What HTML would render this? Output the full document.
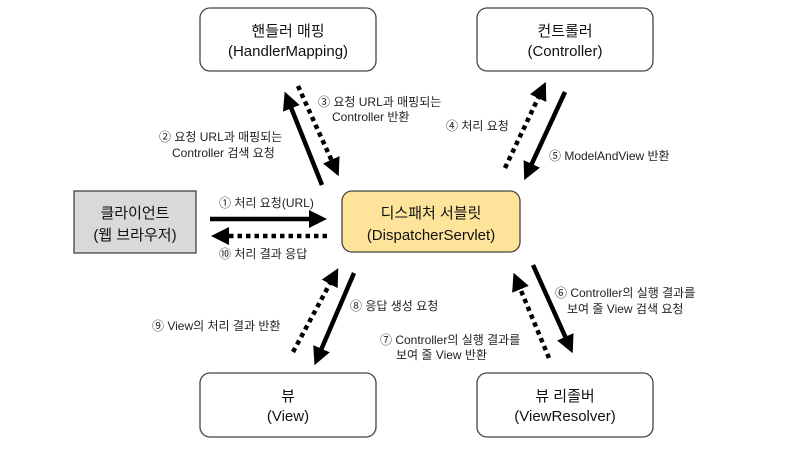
<!DOCTYPE html>
<html><head><meta charset="utf-8"><style>
body{margin:0;background:#fff;}
svg{display:block;font-family:"Liberation Sans","Noto Sans CJK KR",sans-serif;}
.b{font-size:15px;fill:#111;text-anchor:middle}
.l{font-size:12px;fill:#222}
</style></head><body>
<svg width="800" height="450" viewBox="0 0 800 450" xmlns="http://www.w3.org/2000/svg">
<defs>
<marker id="h" markerWidth="4" markerHeight="4" refX="2" refY="2" orient="auto" markerUnits="strokeWidth"><path d="M0,0 L4,2 L0,4 z" fill="#000"/></marker>
</defs>
<g stroke="#444" stroke-width="1.3">
<rect x="200" y="8" width="176" height="63" rx="10" fill="#fff"/>
<rect x="477" y="8" width="176" height="63" rx="10" fill="#fff"/>
<rect x="74" y="191" width="122" height="62" fill="#d9d9d9"/>
<rect x="342" y="191" width="178" height="61" rx="10" fill="#fde49a"/>
<rect x="200" y="373" width="176" height="64" rx="10" fill="#fff"/>
<rect x="477" y="373" width="176" height="64" rx="10" fill="#fff"/>
</g>
<text class="b" x="288" y="36">핸들러 매핑</text><text class="b" x="288" y="56">(HandlerMapping)</text>
<text class="b" x="565" y="36">컨트롤러</text><text class="b" x="565" y="56">(Controller)</text>
<text class="b" x="135" y="218">클라이언트</text><text class="b" x="135" y="240">(웹 브라우저)</text>
<text class="b" x="431" y="218">디스패처 서블릿</text><text class="b" x="431" y="240">(DispatcherServlet)</text>
<text class="b" x="288" y="401">뷰</text><text class="b" x="288" y="421">(View)</text>
<text class="b" x="565" y="401">뷰 리졸버</text><text class="b" x="565" y="421">(ViewResolver)</text>
<g stroke="#000" stroke-width="4.5" fill="none" marker-end="url(#h)">
<line x1="322" y1="185" x2="288" y2="100"/>
<line x1="298" y1="86" x2="335" y2="168" stroke-dasharray="4.5,4"/>
<line x1="505" y1="168" x2="542" y2="90" stroke-dasharray="4.5,4"/>
<line x1="565" y1="92" x2="528" y2="172"/>
<line x1="210" y1="219" x2="318" y2="219"/>
<line x1="327" y1="236" x2="220" y2="236" stroke-dasharray="4.5,4"/>
<line x1="354" y1="273" x2="318" y2="357"/>
<line x1="293" y1="352" x2="334" y2="276" stroke-dasharray="4.5,4"/>
<line x1="533" y1="265" x2="569" y2="345"/>
<line x1="549" y1="358" x2="517" y2="281" stroke-dasharray="4.5,4"/>
</g>
<text class="l" x="159" y="141">② 요청 URL과 매핑되는</text><text class="l" x="172" y="157">Controller 검색 요청</text>
<text class="l" x="318" y="106">③ 요청 URL과 매핑되는</text><text class="l" x="332" y="121">Controller 반환</text>
<text class="l" x="446" y="130">④ 처리 요청</text>
<text class="l" x="549" y="160">⑤ ModelAndView 반환</text>
<text class="l" x="219" y="207">① 처리 요청(URL)</text>
<text class="l" x="219" y="258">⑩ 처리 결과 응답</text>
<text class="l" x="350" y="310">⑧ 응답 생성 요청</text>
<text class="l" x="152" y="330">⑨ View의 처리 결과 반환</text>
<text class="l" x="380" y="344">⑦ Controller의 실행 결과를</text><text class="l" x="396" y="359">보여 줄 View 반환</text>
<text class="l" x="555" y="297">⑥ Controller의 실행 결과를</text><text class="l" x="567" y="313">보여 줄 View 검색 요청</text>
</svg>
</body></html>
